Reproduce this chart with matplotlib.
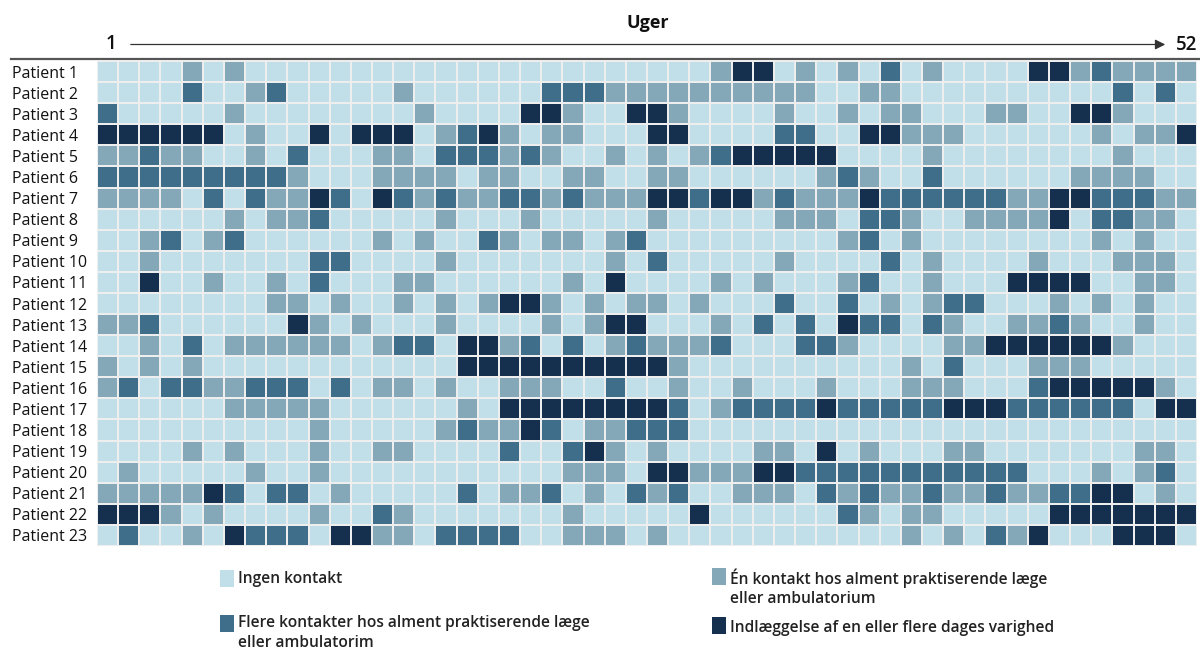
import numpy as np
import matplotlib
matplotlib.use("Agg")
import matplotlib.pyplot as plt
from matplotlib.colors import ListedColormap
from matplotlib.patches import Rectangle
from matplotlib.lines import Line2D

plt.rcParams['font.family'] = ['Open Sans', 'DejaVu Sans']

# 0 = ingen kontakt, 1 = én kontakt, 2 = flere kontakter, 3 = indlæggelse
patients = [f"Patient {i}" for i in range(1, 24)]
weeks = list(range(1, 53))

p01 = [0,0,0,0,1,0,1,0,0,0,0,0,0,0,0,0,0,0, 0,0,0,0,0,0,0,0,0,0,0,1,3,3,0,1,0,1, 0,2,0,1,0,0,0,0,3,3,1,2,1,1,1,1]
p02 = [0,0,0,0,2,0,0,1,2,0,0,0,0,0,1,0,0,0, 0,0,0,2,2,2,1,1,1,1,1,1,1,1,1,1,0,0, 1,1,0,0,0,0,0,0,0,0,0,0,2,0,2,0]
p03 = [2,0,0,0,0,0,1,0,0,0,0,0,0,0,0,1,0,0, 0,0,3,3,1,0,0,3,3,1,0,0,0,0,1,0,0,1, 0,1,1,0,0,0,1,1,0,0,3,3,1,0,0,0]
p04 = [3,3,3,3,3,3,0,1,0,0,3,0,3,3,3,0,1,2, 3,1,0,1,1,0,0,0,3,3,0,0,0,0,2,2,0,0, 3,3,1,1,1,0,0,0,0,0,0,1,0,1,1,3]
p05 = [1,1,2,1,1,0,0,1,0,2,0,0,0,1,1,0,2,2, 2,1,2,1,0,0,1,0,1,0,1,2,3,3,3,3,3,0, 0,0,0,1,0,0,0,0,0,0,0,0,1,0,0,0]
p06 = [2,2,2,2,2,2,2,2,2,1,0,0,0,1,1,1,1,0, 1,1,0,0,1,1,0,0,1,1,0,0,0,0,0,0,1,2, 1,0,0,2,0,0,0,0,0,0,1,1,1,1,0,0]
p07 = [1,1,1,1,0,2,0,2,1,1,3,2,0,3,2,1,2,1, 1,2,2,1,2,1,1,1,3,3,2,3,3,1,2,1,1,1, 3,2,2,2,2,2,2,1,1,3,3,2,2,2,1,1]
p08 = [0,0,0,0,0,0,1,0,1,1,2,0,0,0,0,0,1,0, 0,0,1,0,0,0,0,0,1,0,0,0,0,0,1,1,1,0, 2,2,1,0,0,1,1,1,1,3,0,2,2,1,1,0]
p09 = [0,0,1,2,0,1,2,0,0,0,0,0,0,1,0,1,0,0, 2,1,0,1,1,0,1,2,0,0,0,0,0,0,0,0,0,1, 2,0,1,0,0,0,0,0,0,0,0,1,0,1,0,0]
p10 = [0,0,1,0,0,0,0,0,0,0,2,2,0,0,0,0,1,0, 0,0,0,0,0,0,1,0,2,0,0,0,0,0,1,0,0,0, 0,2,0,1,0,0,0,0,1,0,0,0,1,1,1,0]
p11 = [0,0,3,0,0,1,0,0,1,0,2,0,0,0,1,1,0,0, 0,0,0,0,1,0,3,0,0,0,0,1,0,1,0,0,0,1, 2,0,0,1,0,0,0,3,3,3,3,0,0,1,1,0]
p12 = [0,0,0,0,0,0,0,0,1,1,0,1,0,0,1,0,1,0, 1,3,3,1,0,1,0,1,1,0,1,0,0,0,2,0,0,2, 0,1,0,1,2,2,0,0,0,1,0,1,0,1,0,0]
p13 = [1,1,2,0,0,0,0,0,0,3,1,0,1,0,0,0,1,0, 0,0,0,1,0,1,3,3,0,0,0,1,0,2,0,2,0,3, 2,2,0,2,1,0,0,1,1,2,1,0,0,1,0,0]
p14 = [0,0,1,0,2,0,1,1,1,1,1,1,0,1,2,2,0,3, 3,1,2,0,2,0,1,2,1,1,1,2,0,0,0,2,2,1, 0,0,0,0,1,1,3,3,3,3,3,3,1,0,0,0]
p15 = [1,0,1,0,1,0,0,0,0,0,0,0,0,0,0,0,0,3, 3,3,3,3,3,3,3,3,3,1,0,0,0,0,0,0,0,0, 0,0,1,0,2,0,0,0,1,1,1,0,0,0,0,0]
p16 = [1,2,0,2,2,1,1,2,2,2,0,2,0,1,1,0,1,0, 0,1,1,1,0,0,2,0,0,1,0,0,1,0,0,0,1,0, 0,0,1,1,1,0,0,0,2,3,3,3,3,3,1,0]
p17 = [0,0,0,0,0,0,1,1,1,1,1,0,0,0,0,0,0,1, 0,3,3,3,3,3,3,3,3,2,0,1,2,2,2,2,3,2, 2,2,2,2,3,3,3,2,2,2,2,2,2,0,3,3]
p18 = [0,0,0,0,0,0,0,0,0,0,1,0,0,0,0,0,1,2, 1,1,3,2,0,1,1,2,2,2,0,0,0,0,0,0,0,0, 0,0,0,0,0,0,0,0,0,0,0,0,0,0,0,0]
p19 = [0,0,0,0,1,0,1,0,0,0,1,0,0,1,1,0,0,0, 0,2,0,0,2,3,1,0,1,0,0,0,0,1,1,0,3,0, 1,0,0,0,1,1,0,0,0,0,0,0,0,1,1,0]
p20 = [0,1,0,0,0,0,0,1,0,0,1,0,0,0,0,0,0,0, 0,0,0,0,1,1,1,0,3,3,1,1,1,3,3,2,2,2, 2,2,2,2,2,2,2,2,0,0,0,1,0,1,2,0]
p21 = [1,1,1,1,1,3,2,0,2,2,0,1,0,0,0,0,0,2, 0,1,1,2,0,1,0,2,1,2,0,0,1,1,1,0,2,1, 2,1,1,2,1,1,2,1,1,2,2,3,3,0,1,0]
p22 = [3,3,3,1,0,1,0,0,0,0,1,0,0,2,1,0,0,0, 0,0,0,0,1,0,0,0,0,0,3,0,0,0,0,0,0,2, 1,0,1,1,0,0,0,0,0,3,3,3,3,3,3,3]
p23 = [0,2,0,0,1,0,3,2,2,2,0,3,3,1,1,0,2,2, 2,2,0,0,1,1,1,0,1,0,0,0,0,0,0,0,0,0, 0,0,1,0,1,0,2,1,3,0,0,0,3,3,3,0]

rows = [p01, p02, p03, p04, p05, p06, p07, p08, p09, p10, p11, p12,
        p13, p14, p15, p16, p17, p18, p19, p20, p21, p22, p23]

categories = [
    "Ingen kontakt",
    "Én kontakt hos alment praktiserende læge\neller ambulatorium",
    "Flere kontakter hos alment praktiserende læge\neller ambulatorim",
    "Indlæggelse af en eller flere dages varighed",
]
colors = ["#C0DFE8", "#84A8B8", "#3F6E8A", "#14304E"]

W, H = 1200, 651
fig = plt.figure(figsize=(W / 100, H / 100), dpi=100)

def fx(x):
    return x / W

def fy(y):
    return 1 - y / H

# heatmap
ax = fig.add_axes([fx(97), fy(546), fx(1197) - fx(97), fy(61) - fy(546)])
data = np.array(rows)
ax.pcolormesh(data, cmap=ListedColormap(colors), vmin=-0.5, vmax=3.5,
              edgecolors="#eeeeee", linewidth=1.4)
ax.set_xlim(0, len(weeks))
ax.set_ylim(len(patients), 0)
ax.set_xticks([])
ax.set_yticks(np.arange(len(patients)) + 0.5)
ax.set_yticklabels(patients, ha="left", fontsize=11.5, color="#111111")
ax.tick_params(axis="y", length=0, pad=61)
for s in ax.spines.values():
    s.set_visible(False)

# top rule and week arrow
fig.add_artist(Line2D([fx(11), fx(1200)], [fy(59), fy(59)], color="#555555", lw=1.6))
fig.text(fx(648), fy(23), "Uger", ha="center", va="center", fontsize=13,
         fontweight="bold", color="#111111")
fig.text(fx(111), fy(44), "1", ha="center", va="center", fontsize=13.5,
         fontweight="semibold", color="#111111")
fig.text(fx(1187), fy(45), "52", ha="center", va="center", fontsize=13.5,
         fontweight="semibold", color="#111111")
fig.add_artist(plt.Annotation("", xy=(fx(1168), fy(44.5)), xytext=(fx(128), fy(44.5)),
                              xycoords="figure fraction", textcoords="figure fraction",
                              arrowprops=dict(arrowstyle="-|>", color="#333333", lw=0.9,
                                              mutation_scale=15)))

# legend: patch corner (x, y) and text top y
leg_pos = [(220, 570, 571), (712, 568, 568), (220, 615, 615), (712, 617, 620)]
for (px, py, ty), i in zip(leg_pos, range(len(categories))):
    fig.add_artist(Rectangle((fx(px), fy(py + 17)), 14 / W, 17 / H,
                             transform=fig.transFigure, color=colors[i], lw=0))
    fig.text(fx(px + 18), fy(ty), categories[i], ha="left", va="top",
             fontsize=11.2, fontweight="semibold", color="#222222", linespacing=1.3)

fig.savefig("out.png", dpi=100)
